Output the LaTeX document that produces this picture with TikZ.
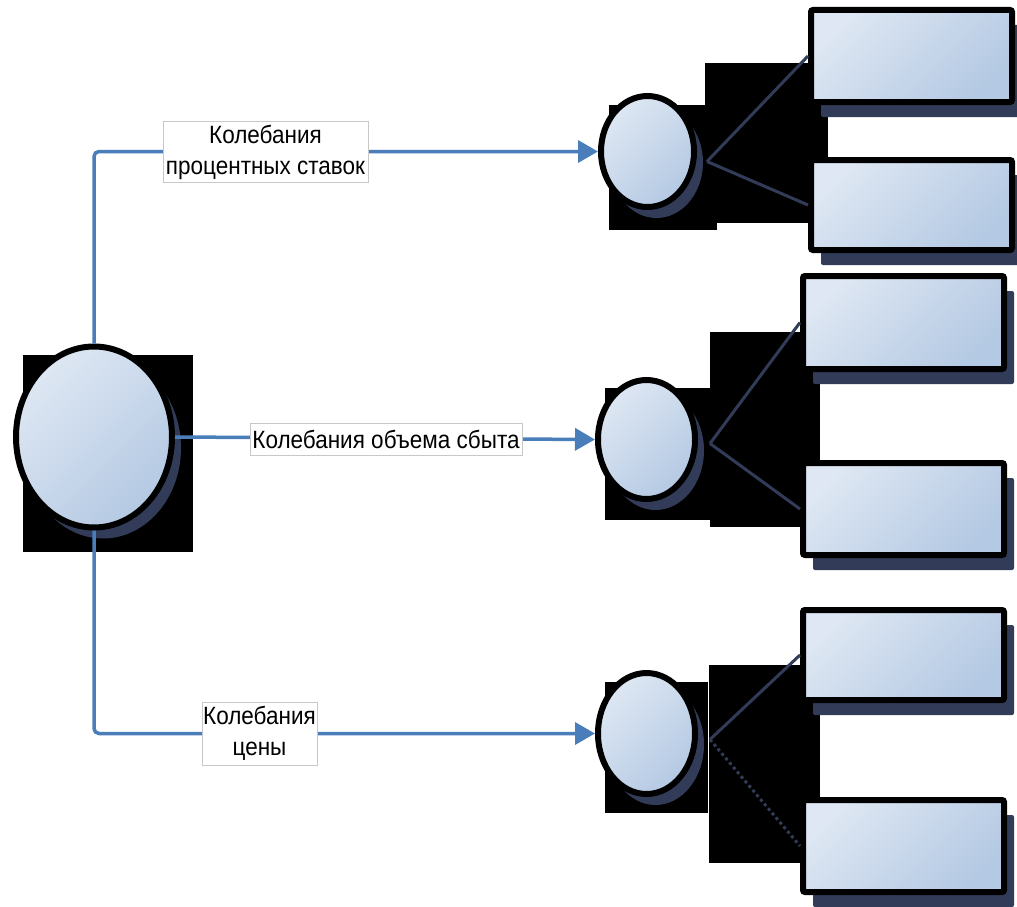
\documentclass[tikz,border=0pt]{standalone}
\usepackage{fontspec}
\setmainfont{Liberation Sans}[FakeStretch=0.9]
\usetikzlibrary{shapes.geometric,arrows.meta,shadows}
\definecolor{lnblue}{RGB}{74,126,187}
\definecolor{fillA}{RGB}{222,231,243}
\definecolor{fillB}{RGB}{180,201,227}
\definecolor{shd}{RGB}{50,60,88}
\definecolor{lblgray}{RGB}{200,200,200}
\begin{document}
\begin{tikzpicture}[x=1pt,y=-1pt,
  bgblock/.style={fill=black},
  circnode/.style={ellipse, draw=black, line width=6pt, inner sep=0pt,
    top color=fillA, bottom color=fillB, shading angle=45,
    drop shadow={shadow xshift=9pt, shadow yshift=-11pt, fill=shd, opacity=1}},
  boxnode/.style={rectangle, rounded corners=2pt, draw=black, line width=6pt, inner sep=0pt,
    minimum width=201pt, top color=fillA, bottom color=fillB, shading angle=45,
    drop shadow={shadow xshift=10pt, shadow yshift=-15pt, fill=shd, opacity=1}},
  flow/.style={draw=lnblue, line width=3.5pt, rounded corners=5pt,
    -{Triangle[length=20pt,width=22pt]}},
  darkline/.style={draw=shd, line width=3pt},
  lbl/.style={fill=white, draw=lblgray, line width=0.8pt, inner sep=0pt, align=center,
    font=\fontsize{25}{31}\selectfont}
]
\useasboundingbox (0,0) rectangle (1017,907);
\fill[white] (0,0) rectangle (1017,907);

% black backing blocks
\fill[bgblock] (23,355) rectangle (193,552);
\fill[bgblock] (609,105) rectangle (717,230);
\fill[bgblock] (705,63) rectangle (828,223);
\fill[bgblock] (605,388) rectangle (710,520);
\fill[bgblock] (710,332) rectangle (820,527);
\fill[bgblock] (605,682) rectangle (708,813);
\fill[bgblock] (709,665) rectangle (820,863);

% main circle
\node[circnode, minimum width=156pt, minimum height=181pt] (big) at (94,437) {};

% second-level circles
\node[circnode, minimum width=93pt, minimum height=111pt] (c1) at (647.5,151.5) {};
\node[circnode, minimum width=97pt, minimum height=119pt] (c2) at (646.5,439.5) {};
\node[circnode, minimum width=97pt, minimum height=121pt] (c3) at (646.5,733.5) {};

% boxes
\node[boxnode, minimum height=92pt] (r1a) at (911.5,56) {};
\node[boxnode, minimum height=90pt] (r1b) at (911.5,205) {};
\node[boxnode, minimum height=93pt] (r2a) at (903.5,322.5) {};
\node[boxnode, minimum height=92pt] (r2b) at (903.5,509) {};
\node[boxnode, minimum height=90pt] (r3a) at (903.5,655) {};
\node[boxnode, minimum height=92pt] (r3b) at (903.5,846) {};

% dark connectors from circles to boxes
\draw[darkline] ([shift={(10,10)}]c1.east) -- (r1a.west);
\draw[darkline] ([shift={(10,10)}]c1.east) -- (r1b.west);
\draw[darkline] ([shift={(12,4)}]c2.east) -- (r2a.west);
\draw[darkline] ([shift={(12,4)}]c2.east) -- (r2b.west);
\draw[darkline] ([shift={(12,6)}]c3.east) -- (r3a.west);
\draw[darkline, dashed] ([shift={(12,6)}]c3.east) -- (r3b.west);

% blue flows
\draw[flow] (big.north) |- (c1.west);
\draw[flow] (big.east) -- (c2.west);
\draw[flow] (big.south) |- (c3.west);

% labels
\node[lbl, minimum width=205pt, minimum height=61pt] (l1) at (265.5,152) {Колебания\\процентных ставок};
\node[lbl, minimum width=272pt, minimum height=32pt] (l2) at (386,439) {Колебания объема сбыта};
\node[lbl, minimum width=115pt, minimum height=63pt] (l3) at (259.5,733.5) {Колебания\\цены};
\end{tikzpicture}
\end{document}
